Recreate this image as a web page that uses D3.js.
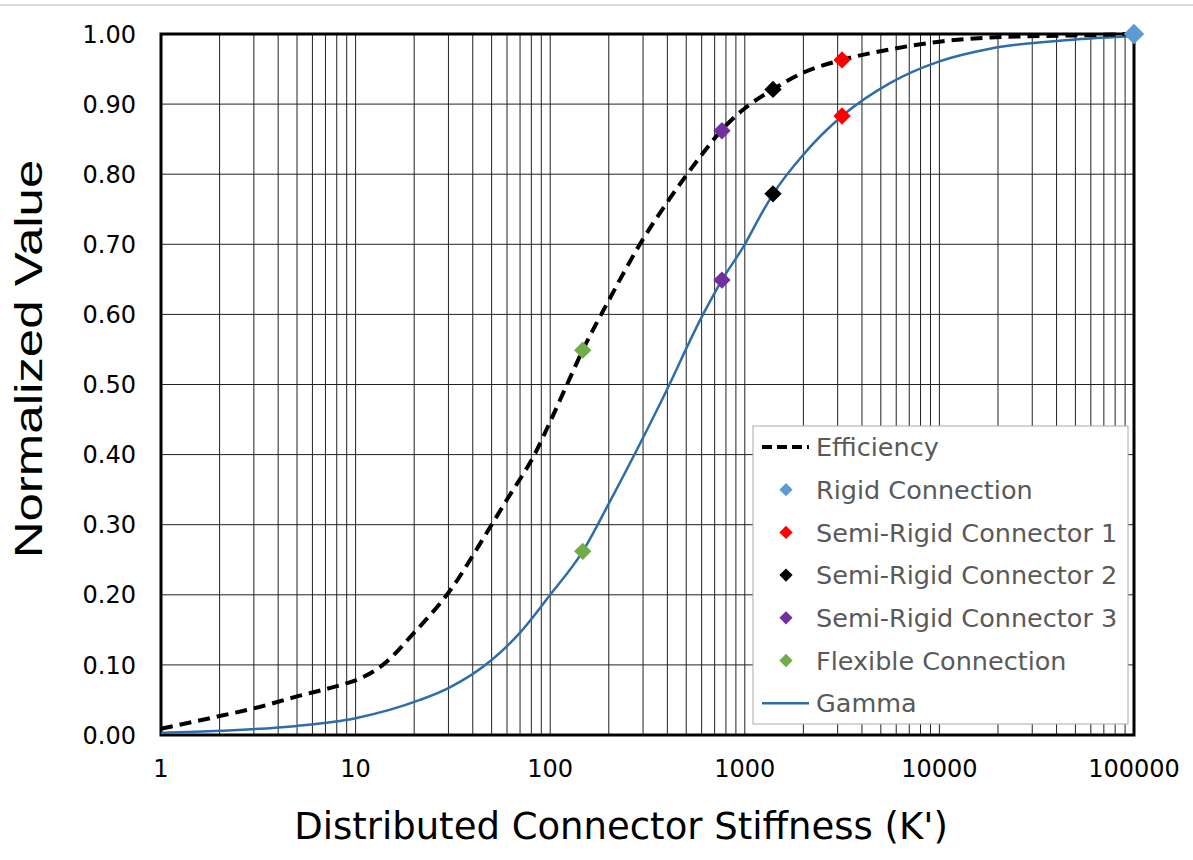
<!DOCTYPE html>
<html>
<head>
<meta charset="utf-8">
<script src="https://cdn.jsdelivr.net/npm/d3@7"></script>
<style>
  body { margin: 0; background: #fff; }
  text { font-family: "DejaVu Sans", Verdana, sans-serif; }
</style>
</head>
<body>
<div id="chart"></div>
<script>
// values
const effK = [1, 2, 3, 5, 8.3, 10, 13.8, 20, 30, 50, 60, 83, 100, 122, 147, 200, 289, 411, 602, 755, 980, 1396, 2000, 3160, 5570, 10000, 18200, 50000, 100000];
const efficiency = [0.009, 0.027, 0.038, 0.055, 0.071, 0.078, 0.10, 0.146, 0.203, 0.30, 0.336, 0.40, 0.447, 0.50, 0.549, 0.62, 0.70, 0.765, 0.828, 0.862, 0.892, 0.921, 0.945, 0.963, 0.978, 0.989, 0.995, 0.998, 1.0];
const gammaK = [1, 2, 5, 10, 21.4, 30, 50, 70, 100, 147, 200, 380, 610, 763, 1000, 1197, 1400, 2000, 3160, 5570, 10000, 18200, 50000, 100000];
const gamma = [0.003, 0.006, 0.013, 0.024, 0.05, 0.067, 0.107, 0.146, 0.20, 0.262, 0.33, 0.481, 0.60, 0.649, 0.70, 0.74, 0.772, 0.828, 0.883, 0.93, 0.961, 0.979, 0.992, 0.997];

const pointNames = ["Rigid Connection", "Semi-Rigid Connector 1", "Semi-Rigid Connector 2", "Semi-Rigid Connector 3", "Flexible Connection"];
const pointColors = ["#5B9BD5", "#FF0000", "#000000", "#7030A0", "#70AD47"];
const pointK = [100000, 3160, 1396, 763, 147];
const pointEff = [1.0, 0.963, 0.921, 0.862, 0.549];
const pointGamma = [1.0, 0.883, 0.772, 0.649, 0.262];

const yTicks = [0, 0.1, 0.2, 0.3, 0.4, 0.5, 0.6, 0.7, 0.8, 0.9, 1.0];
const xTicks = [1, 10, 100, 1000, 10000, 100000];

const W = 1193, H = 860;
const margin = { top: 34, right: 59, bottom: 125, left: 161 };
const pw = W - margin.left - margin.right;
const ph = H - margin.top - margin.bottom;

const svg = d3.select('#chart').append('svg')
  .attr('width', W)
  .attr('height', H);

// faint page line at the top
svg.append('line')
  .attr('x1', 0).attr('x2', W).attr('y1', 5).attr('y2', 5)
  .attr('stroke', '#dcdcdc').attr('stroke-width', 2);

const g = svg.append('g')
  .attr('transform', `translate(${margin.left},${margin.top})`);

const x = d3.scaleLog().domain([1, 100000]).range([0, pw]);
const y = d3.scaleLinear().domain([0, 1]).range([ph, 0]);

// grid
const minor = [];
for (let e = 0; e < 5; e++) {
  for (let m = 1; m <= 9; m++) minor.push(m * Math.pow(10, e));
}
minor.push(100000);

g.selectAll('.vgrid')
  .data(minor)
  .enter().append('line')
  .attr('class', 'vgrid')
  .attr('x1', d => x(d)).attr('x2', d => x(d))
  .attr('y1', 0).attr('y2', ph)
  .attr('stroke', '#222').attr('stroke-width', 1);

g.selectAll('.hgrid')
  .data(yTicks)
  .enter().append('line')
  .attr('class', 'hgrid')
  .attr('x1', 0).attr('x2', pw)
  .attr('y1', d => y(d)).attr('y2', d => y(d))
  .attr('stroke', '#222').attr('stroke-width', 1);

// frame
g.append('rect')
  .attr('x', 0).attr('y', 0)
  .attr('width', pw).attr('height', ph)
  .attr('fill', 'none')
  .attr('stroke', '#000').attr('stroke-width', 3);

// tick labels
g.selectAll('.ylab')
  .data(yTicks)
  .enter().append('text')
  .attr('class', 'ylab')
  .attr('x', -25)
  .attr('y', d => y(d))
  .attr('dy', '0.36em')
  .attr('text-anchor', 'end')
  .attr('font-size', 24)
  .attr('fill', '#000')
  .text(d => d.toFixed(2));

g.selectAll('.xlab')
  .data(xTicks)
  .enter().append('text')
  .attr('class', 'xlab')
  .attr('x', d => x(d))
  .attr('y', 777 - margin.top)
  .attr('text-anchor', 'middle')
  .attr('font-size', 24)
  .attr('fill', '#000')
  .text(d => d);

// axis titles
svg.append('text')
  .attr('transform', 'translate(42,359) rotate(-90) scale(1,0.75)')
  .attr('text-anchor', 'middle')
  .style('font-family', '"Liberation Sans", Arial, sans-serif')
  .attr('font-size', 51)
  .attr('fill', '#000')
  .text('Normalized Value');

svg.append('text')
  .attr('x', 621)
  .attr('y', 839)
  .attr('text-anchor', 'middle')
  .attr('font-size', 37)
  .attr('fill', '#000')
  .text("Distributed Connector Stiffness (K')");

// curves
const line = d3.line()
  .x(d => x(d[0]))
  .y(d => y(d[1]))
  .curve(d3.curveMonotoneX);

g.append('path')
  .datum(gammaK.map((k, i) => [k, gamma[i]]))
  .attr('d', line)
  .attr('fill', 'none')
  .attr('stroke', '#2F6DA8')
  .attr('stroke-width', 2.5);

g.append('path')
  .datum(effK.map((k, i) => [k, efficiency[i]]))
  .attr('d', line)
  .attr('fill', 'none')
  .attr('stroke', '#000')
  .attr('stroke-width', 4)
  .attr('stroke-dasharray', '12,7');

// markers
const pts = [];
pointK.forEach((k, i) => {
  pts.push({ k: k, v: pointEff[i], c: pointColors[i], big: i === 0 });
  if (i > 0) pts.push({ k: k, v: pointGamma[i], c: pointColors[i] });
});

g.selectAll('.pt')
  .data(pts)
  .enter().append('path')
  .attr('class', 'pt')
  .attr('d', d => d3.symbol().type(d3.symbolSquare).size(d.big ? 210 : 150)())
  .attr('transform', d => `translate(${x(d.k)},${y(d.v)}) rotate(45)`)
  .attr('fill', d => d.c);

// legend
const lg = svg.append('g').attr('transform', 'translate(753,426)');
lg.append('rect')
  .attr('x', 0).attr('y', 0)
  .attr('width', 375).attr('height', 298)
  .attr('fill', '#fff')
  .attr('stroke', '#aaa').attr('stroke-width', 1);

const legendItems = [{ name: 'Efficiency', type: 'dash' }]
  .concat(pointNames.map((n, i) => ({ name: n, type: 'pt', c: pointColors[i] })))
  .concat([{ name: 'Gamma', type: 'line' }]);

const row = lg.selectAll('.lrow')
  .data(legendItems)
  .enter().append('g')
  .attr('class', 'lrow')
  .attr('transform', (d, i) => `translate(0,${21 + i * 42.7})`);

row.filter(d => d.type === 'dash').append('line')
  .attr('x1', 9).attr('x2', 56).attr('y1', 0).attr('y2', 0)
  .attr('stroke', '#000').attr('stroke-width', 4)
  .attr('stroke-dasharray', '10,5');

row.filter(d => d.type === 'line').append('line')
  .attr('x1', 9).attr('x2', 56).attr('y1', 0).attr('y2', 0)
  .attr('stroke', '#2F6DA8').attr('stroke-width', 2.5);

row.filter(d => d.type === 'pt').append('path')
  .attr('d', d3.symbol().type(d3.symbolSquare).size(88)())
  .attr('transform', 'translate(33,0) rotate(45)')
  .attr('fill', d => d.c);

row.append('text')
  .attr('x', 63)
  .attr('dy', '0.36em')
  .attr('font-size', 25.5)
  .attr('fill', '#595959')
  .text(d => d.name);
</script>
</body>
</html>
